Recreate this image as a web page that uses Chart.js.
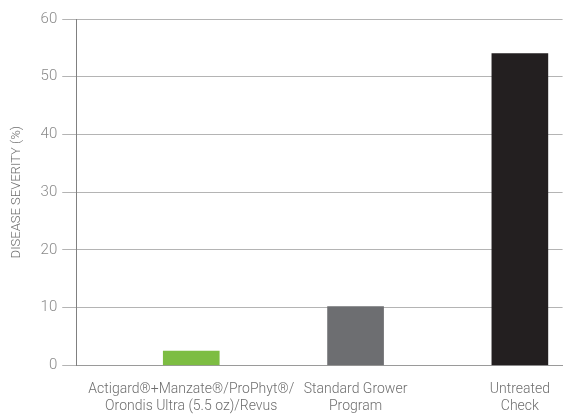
<!DOCTYPE html>
<html>
<head>
<meta charset="utf-8">
<script src="https://cdn.jsdelivr.net/npm/chart.js@4"></script>
<style>
  html, body { margin: 0; padding: 0; background: #fff; }
  #wrap { width: 566px; height: 416px; }
</style>
</head>
<body>
<div id="wrap"><canvas id="chart" width="566" height="416"></canvas></div>
<script>
// values
var categories = [
  ['Actigard®+Manzate®/ProPhyt®/', 'Orondis Ultra (5.5 oz)/Revus'],
  ['Standard Grower', 'Program'],
  ['Untreated', 'Check']
];
var severity = [2.5, 10.2, 54];
var barColors = ['#7dbd42', '#6d6e71', '#231f20'];
var yMax = 60;
var yStep = 10;

var points = severity.map(function (v, i) { return { x: i, y: v }; });

var ctx = document.getElementById('chart').getContext('2d');
new Chart(ctx, {
  type: 'bar',
  data: {
    datasets: [{
      label: 'Disease severity',
      data: points,
      backgroundColor: barColors,
      borderWidth: 0,
      barThickness: 56
    }]
  },
  options: {
    responsive: false,
    animation: false,
    layout: { padding: { top: 19, right: 0, left: 9, bottom: -15 } },
    plugins: { legend: { display: false }, tooltip: { enabled: false } },
    scales: {
      x: {
        type: 'linear',
        offset: false,
        min: -0.7,
        max: 2.26,
        grid: { display: false, drawTicks: false },
        border: { display: true, color: '#9a9a9a', width: 1 },
        ticks: {
          stepSize: 1,
          includeBounds: false,
          autoSkip: false,
          maxRotation: 0,
          padding: 16,
          color: '#6e6e6e',
          font: { family: 'Roboto', size: 14, weight: '300', lineHeight: 1.2 },
          callback: function (value) {
            return Number.isInteger(value) && categories[value] ? categories[value] : '';
          }
        }
      },
      y: {
        min: 0,
        max: yMax,
        ticks: {
          stepSize: yStep,
          padding: 5,
          color: '#8a8a8a',
          font: { family: 'Roboto', size: 15, weight: '300' }
        },
        grid: {
          color: '#b4b4b4',
          lineWidth: 1,
          drawTicks: true,
          tickLength: 14,
          tickColor: '#b4b4b4'
        },
        border: { display: true, color: '#808080', width: 1 },
        title: {
          display: true,
          text: 'DISEASE SEVERITY (%)',
          color: '#6e6e6e',
          font: { family: 'Roboto', size: 13, weight: '300' },
          padding: { top: 0, bottom: 11 }
        }
      }
    }
  }
});
</script>
</body>
</html>
